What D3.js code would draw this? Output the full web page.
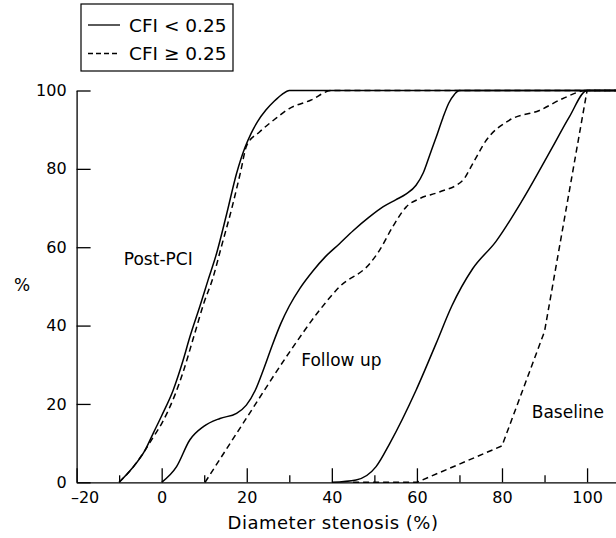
<!DOCTYPE html>
<html>
<head>
<meta charset="utf-8">
<script src="https://cdn.jsdelivr.net/npm/d3@7"></script>
<style>
  html, body { margin: 0; padding: 0; background: #fff; }
  svg { display: block; }
  text { font-family: "DejaVu Sans", sans-serif; fill: #000; }
</style>
</head>
<body>
<svg id="chart" width="616" height="538"></svg>
<script>
// ---- data ----
const xTicks = [-20, 0, 20, 40, 60, 80, 100];
const xMinorTicks = [-10, 10, 30, 50, 70, 90];
const yTicks = [0, 20, 40, 60, 80, 100];

const legendLabels = ["CFI < 0.25", "CFI \u2265 0.25"];

const postPciSolidX = [-10, -7, -4, -2, 0, 2.7, 5, 6.6, 9, 10.9, 12.9, 15.3, 17.6, 19.6, 21, 22.5, 24.5, 26.5, 28.3, 30, 107];
const postPciSolidY = [0, 3.5, 8, 12.5, 17, 23.5, 31, 37, 45, 51.6, 58.4, 68.6, 78.8, 85.5, 89, 92, 95, 97.3, 99, 100, 100];

const postPciDashedX = [-10, -7, -4, -2, 0, 3, 5, 7.5, 10, 12, 14, 16.5, 18.5, 20, 23, 26.5, 30, 35, 40, 107];
const postPciDashedY = [0, 3.5, 8, 11.5, 15, 22, 28, 37, 46, 52, 60, 70, 79, 86, 89.4, 92.6, 95.4, 97.5, 100, 100];

const followSolidX = [0, 3.5, 6.6, 9.8, 13.7, 17.6, 19.9, 22, 24, 26, 28, 30, 32.5, 35.6, 38.5, 41.8, 45, 48.9, 52, 55, 57.5, 59.8, 61.5, 63, 64.5, 66.1, 67.5, 68.8, 70, 107];
const followSolidY = [0, 4, 10.8, 14.2, 16.3, 17.6, 19.7, 23.5, 29, 35, 40.5, 45, 49.5, 54, 57.6, 60.9, 64.2, 67.8, 70.3, 72.1, 73.6, 75.8, 79, 83.5, 88, 93, 96.8, 99, 100, 100];

const followDashedX = [10.2, 20, 30.1, 37.1, 41.8, 48.9, 51.2, 54.3, 57.5, 60.6, 65.3, 70.8, 73.1, 76.3, 81.7, 88.8, 94.2, 100, 107];
const followDashedY = [0, 16.5, 33.3, 43.9, 49.9, 55.8, 59.2, 65.2, 70.3, 72.4, 74.1, 77.1, 81.3, 87.3, 92.4, 94.9, 97.9, 100, 100];

const baseSolidX = [40, 45.7, 50.4, 53.6, 59.8, 64.5, 68.2, 73.1, 78.6, 84.8, 91.9, 95.8, 100, 107];
const baseSolidY = [0, 0.6, 4, 9.9, 23.5, 35.4, 45, 54.5, 61.5, 72, 85.6, 93.2, 100, 100];

const baseDashedX = [45, 60, 80, 90, 100, 107];
const baseDashedY = [0, 0, 9.3, 38.5, 100, 100];

const curveLabels = [
  { text: "Post-PCI", x: -8.9, y: 55.5 },
  { text: "Follow up", x: 32.8, y: 29.8 },
  { text: "Baseline", x: 87, y: 16.5 }
];

// ---- chart ----
const svg = d3.select("#chart");
const x = d3.scaleLinear().domain([-20, 106.8]).range([76.6, 616]);
const y = d3.scaleLinear().domain([0, 100]).range([482.3, 90.5]);

const zip = (xs, ys) => xs.map((v, i) => [v, ys[i]]);

const series = [
  { pts: zip(postPciSolidX, postPciSolidY), dash: null, curve: d3.curveMonotoneX },
  { pts: zip(postPciDashedX, postPciDashedY), dash: "6,4", curve: d3.curveMonotoneX },
  { pts: zip(followSolidX, followSolidY), dash: null, curve: d3.curveMonotoneX },
  { pts: zip(followDashedX, followDashedY), dash: "6,4", curve: d3.curveMonotoneX },
  { pts: zip(baseSolidX, baseSolidY), dash: null, curve: d3.curveMonotoneX },
  { pts: zip(baseDashedX, baseDashedY), dash: "6,4", curve: d3.curveLinear }
];

svg.append("defs").append("clipPath").attr("id", "clip")
  .append("rect").attr("x", 76).attr("y", 80).attr("width", 540).attr("height", 404);

const g = svg.append("g").attr("clip-path", "url(#clip)");
series.forEach(s => {
  const line = d3.line().x(d => x(d[0])).y(d => y(d[1])).curve(s.curve);
  g.append("path")
    .attr("d", line(s.pts))
    .attr("fill", "none")
    .attr("stroke", "#000")
    .attr("stroke-width", 1.5)
    .attr("stroke-dasharray", s.dash);
});

// x axis
const xAxis = d3.axisBottom(x)
  .tickValues(xTicks)
  .tickSizeInner(-14)
  .tickSizeOuter(0)
  .tickPadding(9)
  .tickFormat(d => d < 0 ? "\u2013" + Math.abs(d) : String(d));
const gx = svg.append("g").attr("transform", `translate(0,${y(0)})`).call(xAxis);
gx.selectAll("text").style("font-size", "16px").style("font-family", "DejaVu Sans, sans-serif");
gx.selectAll(".tick").filter(d => d === -20).select("text").attr("dx", 8);

const xMinor = d3.axisBottom(x).tickValues(xMinorTicks).tickSizeInner(-7).tickSizeOuter(0).tickFormat("");
const gxm = svg.append("g").attr("transform", `translate(0,${y(0)})`).call(xMinor);
gxm.select(".domain").remove();

// y axis
const yAxis = d3.axisLeft(y)
  .tickValues(yTicks)
  .tickSizeInner(-14)
  .tickSizeOuter(0)
  .tickPadding(10);
const gy = svg.append("g").attr("transform", `translate(${x(-20)},0)`).call(yAxis);
gy.selectAll("text").style("font-size", "16px").style("font-family", "DejaVu Sans, sans-serif");

[gx, gxm, gy].forEach(a => {
  a.selectAll("path, line").attr("stroke", "#000").attr("stroke-width", 1.3);
});

// axis titles
svg.append("text").attr("x", 333).attr("y", 529).attr("text-anchor", "middle")
  .style("font-size", "18px").style("letter-spacing", "0.5px").text("Diameter stenosis (%)");
svg.append("text").attr("x", 22).attr("y", 291).attr("text-anchor", "middle")
  .style("font-size", "17px").text("%");

// curve labels
curveLabels.forEach(l => {
  svg.append("text").attr("x", x(l.x)).attr("y", y(l.y))
    .style("font-size", "17px").text(l.text);
});

// legend
const lg = svg.append("g");
lg.append("rect").attr("x", 81).attr("y", 4).attr("width", 152).attr("height", 67)
  .attr("fill", "#fff").attr("stroke", "#000").attr("stroke-width", 1.2);
legendLabels.forEach((t, i) => {
  const yy = 25 + i * 28.5;
  lg.append("line").attr("x1", 88).attr("x2", 120).attr("y1", yy).attr("y2", yy)
    .attr("stroke", "#000").attr("stroke-width", 1.3)
    .attr("stroke-dasharray", i === 1 ? "5,3" : null);
  lg.append("text").attr("x", 129).attr("y", yy + 6.5)
    .style("font-size", "18.5px").text(t);
});
</script>
</body>
</html>
